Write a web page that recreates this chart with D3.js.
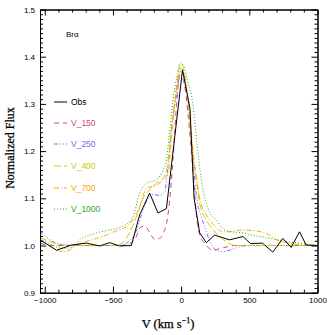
<!DOCTYPE html>
<html><head><meta charset="utf-8">
<script src="https://cdn.jsdelivr.net/npm/d3@7"></script>
<style>body{margin:0;background:#fff}svg{display:block}</style>
</head><body><div id="chart"></div>
<script>
// ---- data ----
const seriesNames = ["Obs","V_150","V_250","V_400","V_700","V_1000"];
const seriesColors = ["#000000","#d6447a","#6c6cff","#cccc00","#ffa500","#2ea62e"];
const seriesDash = ["none","5,4","4,2,1,2,1,2,1,2","7,3","5,2,1,2","1,2"];

const obsV = [-1035,-914,-804,-695,-597,-524,-451,-365,-304,-231,-170,-108,10,65,95,136,185,245,355,453,510,597,672,746,807,868,917,1000];
const obsF = [1.012,0.990,1.001,1.005,0.999,1.006,0.999,1.000,1.065,1.111,1.069,1.078,1.372,1.29,1.10,1.027,1.006,1.022,1.012,1.019,1.004,1.005,0.986,1.015,0.996,1.029,1.001,1.000];

const v150V = [-1035,-950,-800,-600,-450,-377,-330,-300,-270,-230,-194,-158,-125,-108,-90,-60,-33,-10,10,30,50,75,92,110,140,172,233,280,350,400,600,800,1000];
const v150F = [1.005,1.0,1.0,1.0,1.0,1.004,1.018,1.038,1.041,1.028,1.013,1.015,1.03,1.045,1.08,1.18,1.30,1.36,1.355,1.33,1.28,1.20,1.14,1.07,1.02,1.005,0.990,0.993,0.998,1.0,1.0,1.0,1.0];

const v250V = [-1035,-939,-866,-800,-600,-450,-377,-330,-280,-230,-200,-160,-121,-100,-70,-40,-15,0,20,40,57,80,99,120,150,172,210,258,306,355,404,453,550,800,1000];
const v250F = [1.029,1.008,1.001,1.0,1.0,1.0,1.01,1.03,1.075,1.105,1.108,1.106,1.112,1.16,1.25,1.308,1.355,1.37,1.36,1.33,1.29,1.20,1.139,1.09,1.06,1.04,1.01,0.99,0.987,0.99,0.995,0.999,1.0,1.0,1.0];

const v400V = [-1035,-941,-866,-750,-600,-500,-426,-377,-328,-280,-231,-182,-133,-100,-70,-45,-20,0,20,45,70,95,111,136,185,258,331,404,500,800,1000];
const v400F = [1.017,1.006,1.002,1.0,1.0,1.0,1.006,1.029,1.06,1.10,1.118,1.132,1.142,1.17,1.25,1.31,1.365,1.385,1.37,1.32,1.24,1.17,1.139,1.089,1.054,1.026,1.008,1.0,1.0,1.0,1.0];

const v700V = [-1035,-941,-866,-800,-768,-700,-621,-550,-475,-400,-377,-330,-304,-255,-182,-133,-97,-70,-48,-25,-5,15,40,67,95,121,136,196,250,306,355,453,550,648,697,790,900,1000];
const v700F = [1.012,0.995,0.987,0.993,1.0,1.008,1.015,1.022,1.031,1.04,1.047,1.065,1.082,1.121,1.128,1.139,1.153,1.23,1.30,1.35,1.375,1.37,1.33,1.26,1.18,1.13,1.10,1.06,1.04,1.029,1.029,1.033,1.031,1.022,1.012,1.005,1.001,1.0];

const v1000V = [-1035,-941,-866,-800,-744,-670,-600,-524,-426,-353,-304,-255,-182,-133,-108,-85,-60,-30,-5,20,45,86,115,148,185,220,258,306,355,404,453,502,600,697,790,892,1000];
const v1000F = [1.015,1.0,0.994,0.996,1.012,1.022,1.028,1.033,1.041,1.061,1.111,1.132,1.139,1.16,1.181,1.24,1.308,1.36,1.387,1.38,1.35,1.30,1.22,1.139,1.089,1.065,1.054,1.035,1.03,1.028,1.027,1.023,1.018,1.013,1.008,1.004,1.0];

const xMajor = [-1000,-500,0,500,1000];
const xMinor = [-900,-800,-700,-600,-400,-300,-200,-100,100,200,300,400,600,700,800,900];
const yMajor = [0.9,1.0,1.1,1.2,1.3,1.4,1.5];
const yMinor = d3.range(90,151).filter(d => d % 10 !== 0).map(d => d/100);

const seriesV = [obsV,v150V,v250V,v400V,v700V,v1000V];
const seriesF = [obsF,v150F,v250F,v400F,v700F,v1000F];

// ---- chart ----
const W = 335, H = 335;
const L = 40, R = 317.5, T = 9.5, B = 292.7;
const svg = d3.select("#chart").append("svg").attr("width",W).attr("height",H);
const x = d3.scaleLinear().domain([-1035,1000]).range([L,R]);
const y = d3.scaleLinear().domain([0.9,1.5]).range([B,T]);

const tickFont = "'Liberation Sans', Arial, sans-serif";

svg.append("clipPath").attr("id","clip").append("rect").attr("x",L).attr("y",T).attr("width",R-L).attr("height",B-T);

const lineGen = d3.line().x(d=>x(d[0])).y(d=>y(d[1]));
const plotG = svg.append("g").attr("clip-path","url(#clip)");
[1,2,3,4,5,0].forEach(i => {
  const pts = seriesV[i].map((v,j)=>[v, seriesF[i][j]]);
  const smooth = i === 0 ? d3.curveLinear : d3.curveMonotoneX;
  plotG.append("path").datum(pts)
    .attr("d", lineGen.curve(smooth))
    .attr("fill","none")
    .attr("stroke",seriesColors[i])
    .attr("stroke-width", 1)
    .attr("stroke-dasharray", seriesDash[i]);
});

function styleAxis(g){ g.select(".domain").attr("stroke","#000"); g.selectAll(".tick line").attr("stroke","#000"); g.selectAll("text").attr("font-family",tickFont).attr("font-size",8).attr("fill","#000"); }

svg.append("g").attr("transform",`translate(0,${B})`)
  .call(d3.axisBottom(x).tickValues(xMajor).tickSize(-6).tickSizeOuter(0).tickPadding(5).tickFormat(d3.format("d")))
  .call(styleAxis);
svg.append("g").attr("transform",`translate(0,${B})`)
  .call(d3.axisBottom(x).tickValues(xMinor).tickSize(-3).tickSizeOuter(0).tickFormat(""))
  .call(styleAxis);
svg.append("g").attr("transform",`translate(0,${T})`)
  .call(d3.axisTop(x).tickValues(xMajor).tickSize(-6).tickSizeOuter(0).tickFormat(""))
  .call(styleAxis);
svg.append("g").attr("transform",`translate(0,${T})`)
  .call(d3.axisTop(x).tickValues(xMinor).tickSize(-3).tickSizeOuter(0).tickFormat(""))
  .call(styleAxis);

svg.append("g").attr("transform",`translate(${L},0)`)
  .call(d3.axisLeft(y).tickValues(yMajor).tickSize(-6).tickSizeOuter(0).tickPadding(5).tickFormat(d3.format(".1f")))
  .call(styleAxis);
svg.append("g").attr("transform",`translate(${L},0)`)
  .call(d3.axisLeft(y).tickValues(yMinor).tickSize(-3).tickSizeOuter(0).tickFormat(""))
  .call(styleAxis);
svg.append("g").attr("transform",`translate(${R},0)`)
  .call(d3.axisRight(y).tickValues(yMajor).tickSize(-6).tickSizeOuter(0).tickFormat(""))
  .call(styleAxis);
svg.append("g").attr("transform",`translate(${R},0)`)
  .call(d3.axisRight(y).tickValues(yMinor).tickSize(-3).tickSizeOuter(0).tickFormat(""))
  .call(styleAxis);

const titleFont = "'Liberation Serif', 'Times New Roman', serif";
const xt = svg.append("text").attr("x",168).attr("y",328).attr("text-anchor","middle")
  .attr("font-family",titleFont).attr("font-size",12.5).attr("stroke","#000").attr("stroke-width",0.25);
xt.append("tspan").text("V (km s");
xt.append("tspan").attr("dy",-5).attr("font-size",8).text("−1");
xt.append("tspan").attr("dy",5).text(")");

svg.append("text").attr("transform","translate(14,148) rotate(-90)").attr("text-anchor","middle")
  .attr("font-family",titleFont).attr("font-size",12).attr("stroke","#000").attr("stroke-width",0.25).text("Normalized Flux");

svg.append("text").attr("x",66).attr("y",37).attr("font-family",tickFont).attr("font-size",8).text("Brα");

const legY = [102,123,144,166,188,209];
seriesNames.forEach((n,i) => {
  svg.append("line").attr("x1",54).attr("x2",67).attr("y1",legY[i]).attr("y2",legY[i])
    .attr("stroke",seriesColors[i]).attr("stroke-width",1).attr("stroke-dasharray",seriesDash[i]);
  svg.append("text").attr("x",71).attr("y",legY[i]+3).attr("font-family",tickFont).attr("font-size",8.5)
    .attr("fill", i===0 ? "#000" : seriesColors[i]).text(n);
});
</script>
</body></html>
